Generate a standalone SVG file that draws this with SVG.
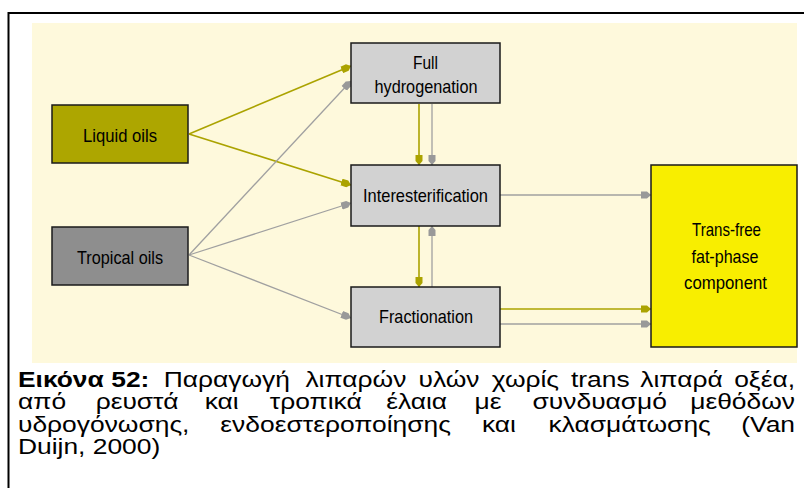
<svg xmlns="http://www.w3.org/2000/svg" width="804" height="488" viewBox="0 0 804 488">
<style>
.box{stroke:#1a1a1a;stroke-width:1.5}
.lbl{font-family:"Liberation Sans",Arial,sans-serif;font-size:18.5px;fill:#000;text-anchor:middle}
.cap{font-family:"Liberation Sans",Arial,sans-serif;font-size:22px;fill:#000}
.ol{stroke:#ABA300;stroke-width:1.6;fill:none}
.gr{stroke:#A0A0A0;stroke-width:1.3;fill:none}
</style>
<defs>
<marker id="ao" markerUnits="userSpaceOnUse" markerWidth="11" markerHeight="8" refX="10" refY="4" orient="auto">
<path d="M0,0.5 L6,0.5 L10,4 L6,7.5 L0,7.5 z" fill="#ABA300"/>
</marker>
<marker id="ag" markerUnits="userSpaceOnUse" markerWidth="11" markerHeight="8" refX="10" refY="4" orient="auto">
<path d="M0,0.5 L6,0.5 L10,4 L6,7.5 L0,7.5 z" fill="#999999"/>
</marker>
</defs>
<rect x="0" y="0" width="804" height="488" fill="#ffffff"/>
<path d="M804,13 H8.5 V488" fill="none" stroke="#000" stroke-width="2"/>
<rect x="32" y="23" width="765" height="340" fill="#FEF9DC"/>

<g id="connectors">
<line class="ol" x1="189" y1="134" x2="351" y2="66" marker-end="url(#ao)"/>
<line class="ol" x1="189" y1="134" x2="351" y2="185" marker-end="url(#ao)"/>
<line class="gr" x1="189" y1="255" x2="351" y2="81" marker-end="url(#ag)"/>
<line class="gr" x1="189" y1="255" x2="351" y2="203" marker-end="url(#ag)"/>
<line class="gr" x1="189" y1="255" x2="351" y2="318" marker-end="url(#ag)"/>
<line class="ol" x1="419" y1="104" x2="419" y2="165" marker-end="url(#ao)"/>
<line class="gr" x1="432" y1="104" x2="432" y2="165" marker-end="url(#ag)"/>
<line class="ol" x1="419" y1="226" x2="419" y2="287" marker-end="url(#ao)"/>
<line class="gr" x1="432" y1="287" x2="432" y2="226" marker-end="url(#ag)"/>
<line class="gr" x1="500" y1="195" x2="651" y2="195" marker-end="url(#ag)"/>
<line class="ol" x1="500" y1="309" x2="651" y2="309" marker-end="url(#ao)"/>
<line class="gr" x1="500" y1="324" x2="651" y2="324" marker-end="url(#ag)"/>
</g>

<g id="liquid-oils">
<rect class="box" x="52" y="105" width="136" height="58" fill="#ADA600"/>
<text class="lbl" x="120" y="142" textLength="74" lengthAdjust="spacingAndGlyphs">Liquid oils</text>
</g>
<g id="tropical-oils">
<rect class="box" x="52" y="227" width="136" height="58" fill="#8E8E8E"/>
<text class="lbl" x="120" y="264" textLength="86" lengthAdjust="spacingAndGlyphs">Tropical oils</text>
</g>
<g id="full-hydrogenation">
<rect class="box" x="351" y="43" width="149" height="60" fill="#D2D2D2"/>
<text class="lbl" x="425.5" y="69" textLength="25" lengthAdjust="spacingAndGlyphs">Full</text>
<text class="lbl" x="426" y="93" textLength="103" lengthAdjust="spacingAndGlyphs">hydrogenation</text>
</g>
<g id="interesterification">
<rect class="box" x="351" y="165" width="149" height="61" fill="#D2D2D2"/>
<text class="lbl" x="425.5" y="202" textLength="125" lengthAdjust="spacingAndGlyphs">Interesterification</text>
</g>
<g id="fractionation">
<rect class="box" x="351" y="287" width="149" height="60" fill="#D2D2D2"/>
<text class="lbl" x="426" y="323" textLength="94" lengthAdjust="spacingAndGlyphs">Fractionation</text>
</g>
<g id="trans-free">
<rect class="box" x="651" y="165" width="146" height="182" fill="#F8EE00"/>
<text class="lbl" x="726.5" y="236" textLength="69" lengthAdjust="spacingAndGlyphs">Trans-free</text>
<text class="lbl" x="725" y="263" textLength="67" lengthAdjust="spacingAndGlyphs">fat-phase</text>
<text class="lbl" x="725.5" y="289" textLength="83" lengthAdjust="spacingAndGlyphs">component</text>
</g>

<g id="caption" transform="translate(18,0) scale(1.2,1)">
<text class="cap" y="387"><tspan x="0" font-weight="bold">Εικόνα</tspan><tspan x="77.7" font-weight="bold">52:</tspan><tspan x="121.4">Παραγωγή</tspan><tspan x="239.5">λιπαρών</tspan><tspan x="333.8">υλών</tspan><tspan x="394.8">χωρίς</tspan><tspan x="460.8">trans</tspan><tspan x="518.6">λιπαρά</tspan></text>
<text class="cap" x="647.5" y="387" text-anchor="end">οξέα,</text>
<text class="cap" y="409.5"><tspan x="0">από</tspan><tspan x="64.7">ρευστά</tspan><tspan x="155.6">και</tspan><tspan x="209.8">τροπικά</tspan><tspan x="306.8">έλαια</tspan><tspan x="380.4">με</tspan><tspan x="428.8">συνδυασμό</tspan></text>
<text class="cap" x="647.5" y="409.5" text-anchor="end">μεθόδων</text>
<text class="cap" y="432"><tspan x="0">υδρογόνωσης,</tspan><tspan x="168.65">ενδοεστεροποίησης</tspan><tspan x="386.6">και</tspan><tspan x="442.1">κλασμάτωσης</tspan></text>
<text class="cap" x="647.5" y="432" text-anchor="end">(Van</text>
<text class="cap" x="0" y="454.5">Duijn, 2000)</text>
</g>
</svg>
